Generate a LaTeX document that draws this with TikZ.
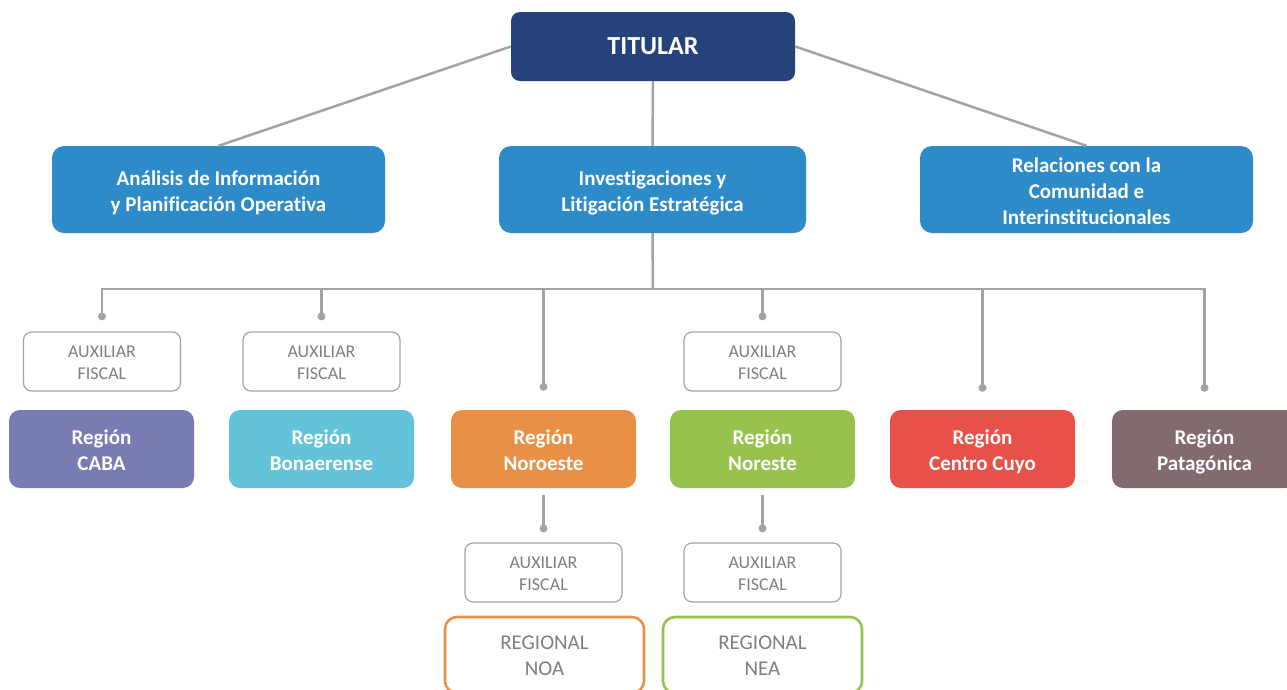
\documentclass[tikz,border=0pt]{standalone}
\usepackage{fontspec}
\setmainfont{Carlito}[Ligatures=NoCommon]
\definecolor{titcol}{HTML}{25437A}
\definecolor{bluecol}{HTML}{2E8BC9}
\definecolor{cabacol}{HTML}{797BB3}
\definecolor{bonacol}{HTML}{63C3D8}
\definecolor{norocol}{HTML}{E89146}
\definecolor{norecol}{HTML}{97C24E}
\definecolor{cuyocol}{HTML}{E8514A}
\definecolor{patacol}{HTML}{836A6F}
\definecolor{linecol}{HTML}{A3A3A3}
\definecolor{auxtext}{HTML}{7F7F7F}
\tikzset{
  strutted/.style 2 args={execute at begin node={\rule{0pt}{#1}}, execute at end node={\rule[-#2]{0pt}{#2}}},
  titbox/.style={fill=titcol, rounded corners=9pt, minimum width=284pt, minimum height=69pt, inner sep=0pt, text=white, font=\fontsize{26}{30}\selectfont\bfseries},
  areabox/.style={strutted={49pt}{6pt}, fill=bluecol, rounded corners=12pt, minimum height=87pt, inner sep=0pt, text=white, align=center, font=\fontsize{21}{26}\selectfont\bfseries},
  regbox/.style={strutted={48pt}{6pt}, fill=#1, rounded corners=11pt, minimum width=185pt, minimum height=78pt, inner sep=0pt, text=white, align=center, font=\fontsize{21}{26}\selectfont\bfseries},
  auxbox/.style={strutted={41pt}{5pt}, draw=linecol, line width=1.2pt, rounded corners=8pt, minimum width=157pt, minimum height=59pt, inner sep=0pt, text=auxtext, align=center, font=\fontsize{18}{22}\selectfont},
  rgnlbox/.style={strutted={46pt}{6pt}, draw=#1, line width=2.6pt, rounded corners=12pt, minimum width=199pt, minimum height=76pt, inner sep=0pt, text=auxtext, align=center, font=\fontsize{21}{26}\selectfont},
  conn/.style={draw=linecol, line width=2.5pt},
  dotc/.style={fill=linecol},
}
\begin{document}
\begin{tikzpicture}[x=1pt,y=-1pt]
\useasboundingbox (0,0) rectangle (1287,689);
% top
\node[titbox] (tit) at (653,46.5) {TITULAR};
\node[areabox, minimum width=333pt] (l2a) at (218.5,189.5) {Análisis de Información\\y Planificación Operativa};
\node[areabox, minimum width=307pt] (l2b) at (652.5,189.5) {Investigaciones y\\Litigación Estratégica};
\node[areabox, minimum width=333pt, strutted={75pt}{6pt}] (l2c) at (1086.5,189.5) {Relaciones con la\\Comunidad e\\Interinstitucionales};
% auxiliaries
\node[auxbox] (auxa) at (102,361.5) {AUXILIAR\\FISCAL};
\node[auxbox] (auxb) at (321.5,361.5) {AUXILIAR\\FISCAL};
\node[auxbox] (auxc) at (762.5,361.5) {AUXILIAR\\FISCAL};
\node[auxbox] (auxd) at (543.5,572.5) {AUXILIAR\\FISCAL};
\node[auxbox] (auxe) at (762.5,572.5) {AUXILIAR\\FISCAL};
% regions
\node[regbox=cabacol] (caba) at (101.5,449) {Región\\CABA};
\node[regbox=bonacol] (bona) at (321.5,449) {Región\\Bonaerense};
\node[regbox=norocol] (noro) at (543.5,449) {Región\\Noroeste};
\node[regbox=norecol] (nore) at (762.5,449) {Región\\Noreste};
\node[regbox=cuyocol] (cuyo) at (982.5,449) {Región\\Centro Cuyo};
\node[regbox=patacol] (pata) at (1204.5,449) {Región\\Patagónica};
% regionals
\node[rgnlbox=norocol] (noa) at (544.5,655) {REGIONAL\\NOA};
\node[rgnlbox=norecol] (nea) at (762.5,655) {REGIONAL\\NEA};
% connectors
\draw[conn] (tit.west) -- (l2a.north);
\draw[conn] (tit.east) -- (l2c.north);
\draw[conn] (tit.south) -- (l2b.north);
\coordinate (bus) at (653,289);
\draw[conn] (l2b.south) -- (bus);
\coordinate (da) at ([yshift=15pt]auxa.north);
\coordinate (db) at ([yshift=15pt]auxb.north);
\coordinate (dc) at ([yshift=15pt]auxc.north);
\coordinate (dn) at ([yshift=23pt]noro.north);
\coordinate (dy) at ([yshift=22pt]cuyo.north);
\coordinate (dp) at ([yshift=22pt]pata.north);
\draw[conn] (bus) -| (da);
\draw[conn] (bus) -| (db);
\draw[conn] (bus) -| (dn);
\draw[conn] (bus) -| (dc);
\draw[conn] (bus) -| (dy);
\draw[conn] (bus) -| (dp);
\coordinate (dd) at ([yshift=14pt]auxd.north);
\coordinate (de) at ([yshift=14pt]auxe.north);
\draw[conn] ([yshift=-7pt]noro.south) -- (dd);
\draw[conn] ([yshift=-7pt]nore.south) -- (de);
\foreach \d in {da,db,dc,dn,dy,dp,dd,de} \fill[dotc] (\d) circle (4pt);
\end{tikzpicture}
\end{document}
